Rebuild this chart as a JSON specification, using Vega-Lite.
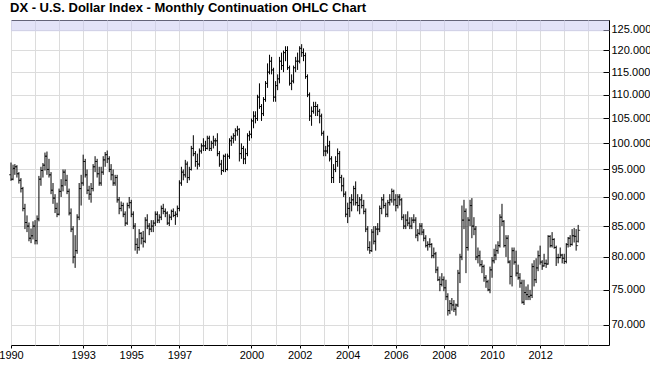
{
"$schema": "https://vega.github.io/schema/vega-lite/v6.json",
"width": 598, "height": 325,
"autosize": {"type": "none"},
"padding": {"left": 11, "top": 20, "right": 41, "bottom": 23},
"background": "white",
"config": {"view": {"stroke": "black", "strokeWidth": 1}},
"title": {"text": "DX - U.S. Dollar Index - Monthly Continuation OHLC Chart", "anchor": "start", "frame": "group", "offset": 5, "fontSize": 13, "fontWeight": "bold", "font": "Liberation Sans", "color": "black", "dx": -1},
"data": {"values": [
{"d":"1990-01-01","o":94.0,"h":96.3,"l":92.9,"c":93.2},{"d":"1990-02-01","o":93.2,"h":95.9,"l":93.0,"c":95.2},{"d":"1990-03-01","o":95.2,"h":96.0,"l":94.0,"c":95.5},{"d":"1990-04-01","o":95.5,"h":95.8,"l":93.5,"c":94.2},{"d":"1990-05-01","o":94.2,"h":94.5,"l":92.4,"c":93.0},{"d":"1990-06-01","o":93.0,"h":93.4,"l":90.8,"c":91.5},{"d":"1990-07-01","o":91.5,"h":91.8,"l":87.5,"c":88.0},{"d":"1990-08-01","o":88.0,"h":88.8,"l":84.5,"c":85.6},{"d":"1990-09-01","o":85.6,"h":86.8,"l":84.0,"c":85.0},{"d":"1990-10-01","o":85.0,"h":85.6,"l":82.5,"c":83.0},{"d":"1990-11-01","o":83.0,"h":84.6,"l":82.2,"c":83.4},{"d":"1990-12-01","o":83.4,"h":85.8,"l":82.8,"c":85.0},
{"d":"1991-01-01","o":85.0,"h":86.0,"l":82.0,"c":82.6},{"d":"1991-02-01","o":82.6,"h":86.8,"l":82.0,"c":86.2},{"d":"1991-03-01","o":86.2,"h":93.8,"l":85.8,"c":93.2},{"d":"1991-04-01","o":93.2,"h":95.5,"l":92.0,"c":94.8},{"d":"1991-05-01","o":94.8,"h":96.2,"l":93.5,"c":95.8},{"d":"1991-06-01","o":95.8,"h":98.2,"l":94.8,"c":97.5},{"d":"1991-07-01","o":97.5,"h":98.4,"l":94.0,"c":95.0},{"d":"1991-08-01","o":95.0,"h":97.0,"l":93.5,"c":94.0},{"d":"1991-09-01","o":94.0,"h":94.5,"l":90.5,"c":91.2},{"d":"1991-10-01","o":91.2,"h":92.5,"l":88.8,"c":89.8},{"d":"1991-11-01","o":89.8,"h":90.5,"l":87.2,"c":88.0},{"d":"1991-12-01","o":88.0,"h":89.0,"l":86.5,"c":87.0},
{"d":"1992-01-01","o":87.0,"h":91.5,"l":86.8,"c":91.0},{"d":"1992-02-01","o":91.0,"h":93.2,"l":90.0,"c":92.0},{"d":"1992-03-01","o":92.0,"h":95.0,"l":91.0,"c":94.5},{"d":"1992-04-01","o":94.5,"h":95.0,"l":92.0,"c":93.0},{"d":"1992-05-01","o":93.0,"h":94.0,"l":90.5,"c":91.0},{"d":"1992-06-01","o":91.0,"h":91.5,"l":86.8,"c":87.2},{"d":"1992-07-01","o":87.2,"h":88.0,"l":84.0,"c":84.5},{"d":"1992-08-01","o":84.5,"h":85.0,"l":79.0,"c":80.0},{"d":"1992-09-01","o":80.0,"h":83.5,"l":78.3,"c":81.0},{"d":"1992-10-01","o":81.0,"h":87.0,"l":80.5,"c":86.5},{"d":"1992-11-01","o":86.5,"h":92.5,"l":86.0,"c":91.5},{"d":"1992-12-01","o":91.5,"h":94.0,"l":88.5,"c":92.5},
{"d":"1993-01-01","o":92.5,"h":97.8,"l":92.0,"c":96.5},{"d":"1993-02-01","o":96.5,"h":97.0,"l":93.5,"c":94.0},{"d":"1993-03-01","o":94.0,"h":95.0,"l":90.5,"c":91.2},{"d":"1993-04-01","o":91.2,"h":92.0,"l":89.5,"c":90.5},{"d":"1993-05-01","o":90.5,"h":92.5,"l":89.0,"c":91.5},{"d":"1993-06-01","o":91.5,"h":96.0,"l":91.0,"c":95.5},{"d":"1993-07-01","o":95.5,"h":97.5,"l":94.5,"c":96.5},{"d":"1993-08-01","o":96.5,"h":97.0,"l":93.5,"c":94.2},{"d":"1993-09-01","o":94.2,"h":95.5,"l":92.0,"c":92.5},{"d":"1993-10-01","o":92.5,"h":95.5,"l":92.0,"c":94.5},{"d":"1993-11-01","o":94.5,"h":97.5,"l":94.0,"c":96.8},{"d":"1993-12-01","o":96.8,"h":98.3,"l":95.5,"c":97.8},
{"d":"1994-01-01","o":97.8,"h":98.6,"l":96.2,"c":97.0},{"d":"1994-02-01","o":97.0,"h":97.5,"l":94.5,"c":95.0},{"d":"1994-03-01","o":95.0,"h":96.0,"l":93.0,"c":94.0},{"d":"1994-04-01","o":94.0,"h":95.0,"l":92.0,"c":92.5},{"d":"1994-05-01","o":92.5,"h":94.0,"l":92.0,"c":93.5},{"d":"1994-06-01","o":93.5,"h":94.0,"l":89.0,"c":89.5},{"d":"1994-07-01","o":89.5,"h":90.0,"l":87.0,"c":88.0},{"d":"1994-08-01","o":88.0,"h":89.2,"l":87.5,"c":88.5},{"d":"1994-09-01","o":88.5,"h":89.0,"l":86.5,"c":87.0},{"d":"1994-10-01","o":87.0,"h":87.5,"l":85.0,"c":85.5},{"d":"1994-11-01","o":85.5,"h":89.0,"l":85.2,"c":88.5},{"d":"1994-12-01","o":88.5,"h":90.0,"l":88.0,"c":89.0},
{"d":"1995-01-01","o":89.0,"h":89.5,"l":86.5,"c":87.0},{"d":"1995-02-01","o":87.0,"h":87.5,"l":84.5,"c":85.0},{"d":"1995-03-01","o":85.0,"h":85.5,"l":81.0,"c":82.0},{"d":"1995-04-01","o":82.0,"h":83.0,"l":80.5,"c":81.5},{"d":"1995-05-01","o":81.5,"h":84.5,"l":81.0,"c":83.8},{"d":"1995-06-01","o":83.8,"h":84.0,"l":82.0,"c":83.0},{"d":"1995-07-01","o":83.0,"h":84.2,"l":81.5,"c":82.5},{"d":"1995-08-01","o":82.5,"h":86.5,"l":82.2,"c":86.0},{"d":"1995-09-01","o":86.0,"h":87.0,"l":84.5,"c":85.0},{"d":"1995-10-01","o":85.0,"h":85.5,"l":83.5,"c":84.5},{"d":"1995-11-01","o":84.5,"h":86.0,"l":84.0,"c":85.0},{"d":"1995-12-01","o":85.0,"h":86.0,"l":84.0,"c":85.5},
{"d":"1996-01-01","o":85.5,"h":87.5,"l":85.0,"c":87.0},{"d":"1996-02-01","o":87.0,"h":87.5,"l":85.5,"c":86.0},{"d":"1996-03-01","o":86.0,"h":87.0,"l":85.5,"c":86.5},{"d":"1996-04-01","o":86.5,"h":88.5,"l":86.0,"c":88.0},{"d":"1996-05-01","o":88.0,"h":88.8,"l":87.0,"c":87.5},{"d":"1996-06-01","o":87.5,"h":88.0,"l":86.5,"c":87.2},{"d":"1996-07-01","o":87.2,"h":87.5,"l":85.2,"c":85.5},{"d":"1996-08-01","o":85.5,"h":87.0,"l":85.0,"c":86.5},{"d":"1996-09-01","o":86.5,"h":87.8,"l":86.0,"c":87.5},{"d":"1996-10-01","o":87.5,"h":88.0,"l":86.5,"c":86.8},{"d":"1996-11-01","o":86.8,"h":87.5,"l":85.2,"c":87.0},{"d":"1996-12-01","o":87.0,"h":88.5,"l":86.5,"c":88.0},
{"d":"1997-01-01","o":88.0,"h":93.0,"l":87.5,"c":92.5},{"d":"1997-02-01","o":92.5,"h":95.5,"l":92.0,"c":94.5},{"d":"1997-03-01","o":94.5,"h":95.0,"l":93.0,"c":94.0},{"d":"1997-04-01","o":94.0,"h":96.8,"l":93.5,"c":96.0},{"d":"1997-05-01","o":96.0,"h":96.5,"l":92.5,"c":93.5},{"d":"1997-06-01","o":93.5,"h":95.5,"l":93.0,"c":95.0},{"d":"1997-07-01","o":95.0,"h":99.5,"l":94.8,"c":99.0},{"d":"1997-08-01","o":99.0,"h":101.6,"l":97.5,"c":98.0},{"d":"1997-09-01","o":98.0,"h":98.5,"l":95.5,"c":96.5},{"d":"1997-10-01","o":96.5,"h":98.0,"l":95.0,"c":96.0},{"d":"1997-11-01","o":96.0,"h":99.0,"l":95.5,"c":98.5},{"d":"1997-12-01","o":98.5,"h":100.0,"l":98.0,"c":99.5},
{"d":"1998-01-01","o":99.5,"h":101.0,"l":98.5,"c":99.5},{"d":"1998-02-01","o":99.5,"h":100.5,"l":98.5,"c":99.0},{"d":"1998-03-01","o":99.0,"h":101.5,"l":98.8,"c":101.0},{"d":"1998-04-01","o":101.0,"h":101.5,"l":98.5,"c":99.0},{"d":"1998-05-01","o":99.0,"h":100.5,"l":98.5,"c":100.0},{"d":"1998-06-01","o":100.0,"h":101.5,"l":99.0,"c":100.5},{"d":"1998-07-01","o":100.5,"h":101.0,"l":99.5,"c":100.5},{"d":"1998-08-01","o":100.5,"h":102.0,"l":97.5,"c":98.0},{"d":"1998-09-01","o":98.0,"h":98.5,"l":95.5,"c":96.0},{"d":"1998-10-01","o":96.0,"h":96.8,"l":94.0,"c":94.8},{"d":"1998-11-01","o":94.8,"h":97.8,"l":94.5,"c":97.5},{"d":"1998-12-01","o":97.5,"h":98.0,"l":94.5,"c":95.0},
{"d":"1999-01-01","o":95.0,"h":98.0,"l":94.8,"c":97.5},{"d":"1999-02-01","o":97.5,"h":101.0,"l":97.0,"c":100.5},{"d":"1999-03-01","o":100.5,"h":101.5,"l":99.5,"c":101.0},{"d":"1999-04-01","o":101.0,"h":102.0,"l":100.0,"c":101.5},{"d":"1999-05-01","o":101.5,"h":103.0,"l":100.5,"c":102.5},{"d":"1999-06-01","o":102.5,"h":103.5,"l":101.5,"c":102.8},{"d":"1999-07-01","o":102.8,"h":103.0,"l":96.5,"c":98.0},{"d":"1999-08-01","o":98.0,"h":100.0,"l":97.0,"c":99.0},{"d":"1999-09-01","o":99.0,"h":99.5,"l":96.0,"c":97.0},{"d":"1999-10-01","o":97.0,"h":99.0,"l":96.0,"c":98.0},{"d":"1999-11-01","o":98.0,"h":102.0,"l":97.5,"c":101.5},{"d":"1999-12-01","o":101.5,"h":102.5,"l":100.5,"c":101.8},
{"d":"2000-01-01","o":101.8,"h":105.0,"l":101.0,"c":104.5},{"d":"2000-02-01","o":104.5,"h":106.5,"l":103.0,"c":105.5},{"d":"2000-03-01","o":105.5,"h":106.5,"l":104.0,"c":105.0},{"d":"2000-04-01","o":105.0,"h":110.0,"l":104.5,"c":109.5},{"d":"2000-05-01","o":109.5,"h":112.5,"l":107.0,"c":107.5},{"d":"2000-06-01","o":107.5,"h":108.0,"l":104.5,"c":106.0},{"d":"2000-07-01","o":106.0,"h":109.5,"l":105.5,"c":109.0},{"d":"2000-08-01","o":109.0,"h":113.0,"l":108.5,"c":112.5},{"d":"2000-09-01","o":112.5,"h":117.0,"l":111.5,"c":115.0},{"d":"2000-10-01","o":115.0,"h":119.0,"l":114.5,"c":117.5},{"d":"2000-11-01","o":117.5,"h":118.5,"l":114.5,"c":115.5},{"d":"2000-12-01","o":115.5,"h":116.0,"l":108.5,"c":109.5},
{"d":"2001-01-01","o":109.5,"h":113.0,"l":108.5,"c":112.0},{"d":"2001-02-01","o":112.0,"h":114.5,"l":111.0,"c":113.5},{"d":"2001-03-01","o":113.5,"h":118.5,"l":112.5,"c":117.5},{"d":"2001-04-01","o":117.5,"h":119.5,"l":115.5,"c":116.5},{"d":"2001-05-01","o":116.5,"h":120.0,"l":115.0,"c":119.5},{"d":"2001-06-01","o":119.5,"h":121.0,"l":117.5,"c":120.0},{"d":"2001-07-01","o":120.0,"h":121.0,"l":115.5,"c":116.0},{"d":"2001-08-01","o":116.0,"h":116.5,"l":112.0,"c":112.5},{"d":"2001-09-01","o":112.5,"h":114.5,"l":111.0,"c":113.0},{"d":"2001-10-01","o":113.0,"h":116.5,"l":112.5,"c":116.0},{"d":"2001-11-01","o":116.0,"h":118.5,"l":115.0,"c":117.5},{"d":"2001-12-01","o":117.5,"h":119.5,"l":115.5,"c":117.5},
{"d":"2002-01-01","o":117.5,"h":121.0,"l":117.0,"c":120.5},{"d":"2002-02-01","o":120.5,"h":121.5,"l":118.5,"c":119.5},{"d":"2002-03-01","o":119.5,"h":120.5,"l":117.5,"c":118.8},{"d":"2002-04-01","o":118.8,"h":119.5,"l":113.5,"c":114.0},{"d":"2002-05-01","o":114.0,"h":114.5,"l":109.5,"c":110.0},{"d":"2002-06-01","o":110.0,"h":110.5,"l":104.5,"c":105.5},{"d":"2002-07-01","o":105.5,"h":107.5,"l":103.5,"c":106.5},{"d":"2002-08-01","o":106.5,"h":108.5,"l":106.0,"c":107.5},{"d":"2002-09-01","o":107.5,"h":108.5,"l":105.5,"c":107.5},{"d":"2002-10-01","o":107.5,"h":108.0,"l":105.5,"c":106.5},{"d":"2002-11-01","o":106.5,"h":107.0,"l":104.0,"c":105.5},{"d":"2002-12-01","o":105.5,"h":106.0,"l":101.5,"c":102.0},
{"d":"2003-01-01","o":102.0,"h":102.5,"l":97.5,"c":98.5},{"d":"2003-02-01","o":98.5,"h":99.5,"l":97.5,"c":98.5},{"d":"2003-03-01","o":98.5,"h":101.5,"l":98.0,"c":99.5},{"d":"2003-04-01","o":99.5,"h":100.5,"l":96.5,"c":97.0},{"d":"2003-05-01","o":97.0,"h":97.5,"l":92.5,"c":93.5},{"d":"2003-06-01","o":93.5,"h":96.0,"l":92.5,"c":95.0},{"d":"2003-07-01","o":95.0,"h":97.5,"l":94.5,"c":96.5},{"d":"2003-08-01","o":96.5,"h":99.0,"l":95.5,"c":98.0},{"d":"2003-09-01","o":98.0,"h":98.5,"l":92.5,"c":93.5},{"d":"2003-10-01","o":93.5,"h":94.0,"l":91.0,"c":92.0},{"d":"2003-11-01","o":92.0,"h":93.5,"l":90.0,"c":90.5},{"d":"2003-12-01","o":90.5,"h":91.0,"l":86.5,"c":87.0},
{"d":"2004-01-01","o":87.0,"h":89.0,"l":85.5,"c":88.0},{"d":"2004-02-01","o":88.0,"h":90.0,"l":86.5,"c":89.0},{"d":"2004-03-01","o":89.0,"h":90.5,"l":87.5,"c":89.5},{"d":"2004-04-01","o":89.5,"h":92.0,"l":88.5,"c":91.5},{"d":"2004-05-01","o":91.5,"h":92.8,"l":88.5,"c":89.0},{"d":"2004-06-01","o":89.0,"h":90.5,"l":87.5,"c":88.5},{"d":"2004-07-01","o":88.5,"h":90.0,"l":87.0,"c":89.5},{"d":"2004-08-01","o":89.5,"h":90.5,"l":88.0,"c":88.5},{"d":"2004-09-01","o":88.5,"h":89.5,"l":87.0,"c":87.5},{"d":"2004-10-01","o":87.5,"h":88.0,"l":84.0,"c":84.5},{"d":"2004-11-01","o":84.5,"h":85.0,"l":81.0,"c":81.5},{"d":"2004-12-01","o":81.5,"h":82.5,"l":80.5,"c":81.0},
{"d":"2005-01-01","o":81.0,"h":84.5,"l":80.8,"c":84.0},{"d":"2005-02-01","o":84.0,"h":85.0,"l":82.0,"c":82.5},{"d":"2005-03-01","o":82.5,"h":85.0,"l":81.0,"c":84.5},{"d":"2005-04-01","o":84.5,"h":85.5,"l":83.5,"c":84.5},{"d":"2005-05-01","o":84.5,"h":88.5,"l":84.0,"c":88.0},{"d":"2005-06-01","o":88.0,"h":90.0,"l":87.0,"c":89.5},{"d":"2005-07-01","o":89.5,"h":90.5,"l":88.0,"c":88.5},{"d":"2005-08-01","o":88.5,"h":89.0,"l":86.5,"c":87.0},{"d":"2005-09-01","o":87.0,"h":89.5,"l":86.5,"c":89.0},{"d":"2005-10-01","o":89.0,"h":90.5,"l":88.5,"c":89.5},{"d":"2005-11-01","o":89.5,"h":91.5,"l":89.0,"c":91.0},{"d":"2005-12-01","o":91.0,"h":91.3,"l":88.5,"c":89.5},
{"d":"2006-01-01","o":89.5,"h":90.5,"l":87.5,"c":88.5},{"d":"2006-02-01","o":88.5,"h":90.5,"l":88.0,"c":90.0},{"d":"2006-03-01","o":90.0,"h":90.5,"l":88.5,"c":89.5},{"d":"2006-04-01","o":89.5,"h":89.8,"l":86.0,"c":86.5},{"d":"2006-05-01","o":86.5,"h":87.0,"l":84.5,"c":85.0},{"d":"2006-06-01","o":85.0,"h":87.0,"l":84.5,"c":86.0},{"d":"2006-07-01","o":86.0,"h":87.5,"l":85.0,"c":85.5},{"d":"2006-08-01","o":85.5,"h":86.5,"l":84.5,"c":85.0},{"d":"2006-09-01","o":85.0,"h":86.5,"l":84.5,"c":86.0},{"d":"2006-10-01","o":86.0,"h":87.0,"l":85.5,"c":86.0},{"d":"2006-11-01","o":86.0,"h":86.5,"l":83.0,"c":83.5},{"d":"2006-12-01","o":83.5,"h":84.5,"l":82.5,"c":83.8},
{"d":"2007-01-01","o":83.8,"h":85.5,"l":83.5,"c":85.0},{"d":"2007-02-01","o":85.0,"h":85.5,"l":83.5,"c":84.0},{"d":"2007-03-01","o":84.0,"h":84.5,"l":82.5,"c":83.0},{"d":"2007-04-01","o":83.0,"h":83.5,"l":81.5,"c":81.8},{"d":"2007-05-01","o":81.8,"h":82.5,"l":81.0,"c":82.0},{"d":"2007-06-01","o":82.0,"h":83.0,"l":81.5,"c":82.0},{"d":"2007-07-01","o":82.0,"h":82.2,"l":79.8,"c":80.2},{"d":"2007-08-01","o":80.2,"h":81.5,"l":79.8,"c":80.5},{"d":"2007-09-01","o":80.5,"h":80.8,"l":77.5,"c":78.0},{"d":"2007-10-01","o":78.0,"h":78.5,"l":76.3,"c":76.5},{"d":"2007-11-01","o":76.5,"h":77.0,"l":74.8,"c":75.8},{"d":"2007-12-01","o":75.8,"h":77.5,"l":75.5,"c":76.5},
{"d":"2008-01-01","o":76.5,"h":77.0,"l":74.8,"c":75.3},{"d":"2008-02-01","o":75.3,"h":76.5,"l":73.5,"c":74.0},{"d":"2008-03-01","o":74.0,"h":74.5,"l":71.3,"c":72.0},{"d":"2008-04-01","o":72.0,"h":73.5,"l":71.5,"c":73.0},{"d":"2008-05-01","o":73.0,"h":73.8,"l":72.0,"c":72.8},{"d":"2008-06-01","o":72.8,"h":73.5,"l":71.8,"c":72.2},{"d":"2008-07-01","o":72.2,"h":73.0,"l":71.3,"c":72.8},{"d":"2008-08-01","o":72.8,"h":78.0,"l":72.5,"c":77.5},{"d":"2008-09-01","o":77.5,"h":80.5,"l":76.0,"c":80.0},{"d":"2008-10-01","o":80.0,"h":88.5,"l":79.5,"c":86.0},{"d":"2008-11-01","o":86.0,"h":89.5,"l":84.5,"c":87.5},{"d":"2008-12-01","o":87.5,"h":88.0,"l":77.5,"c":81.5},
{"d":"2009-01-01","o":81.5,"h":86.5,"l":81.0,"c":86.0},{"d":"2009-02-01","o":86.0,"h":89.5,"l":85.0,"c":88.5},{"d":"2009-03-01","o":88.5,"h":89.8,"l":83.0,"c":85.0},{"d":"2009-04-01","o":85.0,"h":86.5,"l":83.5,"c":84.5},{"d":"2009-05-01","o":84.5,"h":85.0,"l":79.5,"c":80.0},{"d":"2009-06-01","o":80.0,"h":81.5,"l":79.0,"c":80.2},{"d":"2009-07-01","o":80.2,"h":81.0,"l":78.5,"c":78.8},{"d":"2009-08-01","o":78.8,"h":79.5,"l":77.5,"c":78.5},{"d":"2009-09-01","o":78.5,"h":78.8,"l":76.2,"c":76.8},{"d":"2009-10-01","o":76.8,"h":77.2,"l":75.3,"c":76.2},{"d":"2009-11-01","o":76.2,"h":76.5,"l":74.8,"c":75.0},{"d":"2009-12-01","o":75.0,"h":78.5,"l":74.5,"c":78.0},
{"d":"2010-01-01","o":78.0,"h":80.0,"l":76.8,"c":79.4},{"d":"2010-02-01","o":79.4,"h":81.3,"l":79.0,"c":80.3},{"d":"2010-03-01","o":80.3,"h":82.0,"l":79.5,"c":81.0},{"d":"2010-04-01","o":81.0,"h":82.5,"l":80.5,"c":81.8},{"d":"2010-05-01","o":81.8,"h":87.0,"l":81.5,"c":86.5},{"d":"2010-06-01","o":86.5,"h":88.8,"l":85.0,"c":85.8},{"d":"2010-07-01","o":85.8,"h":86.0,"l":81.5,"c":81.8},{"d":"2010-08-01","o":81.8,"h":83.5,"l":80.0,"c":83.0},{"d":"2010-09-01","o":83.0,"h":83.5,"l":79.0,"c":79.2},{"d":"2010-10-01","o":79.2,"h":79.5,"l":75.8,"c":77.0},{"d":"2010-11-01","o":77.0,"h":81.5,"l":75.5,"c":81.0},{"d":"2010-12-01","o":81.0,"h":81.5,"l":78.8,"c":79.2},
{"d":"2011-01-01","o":79.2,"h":81.0,"l":77.0,"c":77.5},{"d":"2011-02-01","o":77.5,"h":78.8,"l":76.5,"c":76.8},{"d":"2011-03-01","o":76.8,"h":77.5,"l":75.3,"c":76.0},{"d":"2011-04-01","o":76.0,"h":76.5,"l":73.0,"c":73.2},{"d":"2011-05-01","o":73.2,"h":76.5,"l":72.8,"c":74.6},{"d":"2011-06-01","o":74.6,"h":75.5,"l":73.5,"c":74.3},{"d":"2011-07-01","o":74.3,"h":75.8,"l":73.5,"c":74.0},{"d":"2011-08-01","o":74.0,"h":75.0,"l":73.5,"c":74.2},{"d":"2011-09-01","o":74.2,"h":79.0,"l":73.8,"c":78.5},{"d":"2011-10-01","o":78.5,"h":79.5,"l":75.5,"c":76.5},{"d":"2011-11-01","o":76.5,"h":79.8,"l":76.0,"c":78.3},{"d":"2011-12-01","o":78.3,"h":81.0,"l":77.8,"c":80.2},
{"d":"2012-01-01","o":80.2,"h":81.8,"l":78.8,"c":79.2},{"d":"2012-02-01","o":79.2,"h":79.5,"l":78.0,"c":78.6},{"d":"2012-03-01","o":78.6,"h":80.5,"l":78.5,"c":79.0},{"d":"2012-04-01","o":79.0,"h":79.6,"l":78.3,"c":78.9},{"d":"2012-05-01","o":78.9,"h":83.5,"l":78.8,"c":83.3},{"d":"2012-06-01","o":83.3,"h":83.5,"l":81.5,"c":81.8},{"d":"2012-07-01","o":81.8,"h":84.0,"l":81.5,"c":82.8},{"d":"2012-08-01","o":82.8,"h":83.0,"l":81.3,"c":81.5},{"d":"2012-09-01","o":81.5,"h":81.8,"l":78.6,"c":79.9},{"d":"2012-10-01","o":79.9,"h":80.5,"l":79.0,"c":79.9},{"d":"2012-11-01","o":79.9,"h":81.5,"l":79.8,"c":80.3},{"d":"2012-12-01","o":80.3,"h":80.5,"l":79.0,"c":79.8},
{"d":"2013-01-01","o":79.8,"h":80.5,"l":78.9,"c":79.3},{"d":"2013-02-01","o":79.3,"h":82.2,"l":79.0,"c":82.0},{"d":"2013-03-01","o":82.0,"h":83.2,"l":81.5,"c":83.0},{"d":"2013-04-01","o":83.0,"h":83.5,"l":81.6,"c":82.0},{"d":"2013-05-01","o":82.0,"h":84.5,"l":81.8,"c":83.4},{"d":"2013-06-01","o":83.4,"h":84.7,"l":82.3,"c":83.3},{"d":"2013-07-01","o":83.3,"h":84.5,"l":81.0,"c":81.8},{"d":"2013-08-01","o":82.5,"h":85.2,"l":82.3,"c":84.3}
]},
"resolve": {"axis": {"x": "independent"}},
"layer": [
{"mark": {"type": "rect", "fill": "#c8c8f2", "opacity": 0.5},
 "data": {"values": [{"from": 124.6, "to": 127.4}]},
 "encoding": {"y": {"field": "from", "type": "quantitative", "scale": {"type": "log", "domain": [67.3, 127.4], "nice": false, "zero": false}}, "y2": {"field": "to"}}},
{"mark": {"type": "rule", "color": "black", "strokeWidth": 1},
 "encoding": {
  "x": {"field": "d", "type": "temporal", "scale": {"type": "utc", "domain": ["1990-01-01", "2014-11-12"]},
   "axis": {"title": null, "domain": false, "grid": false,
    "values": [{"year":1990,"utc":true},{"year":1993,"utc":true},{"year":1995,"utc":true},{"year":1997,"utc":true},{"year":2000,"utc":true},{"year":2002,"utc":true},{"year":2004,"utc":true},{"year":2006,"utc":true},{"year":2008,"utc":true},{"year":2010,"utc":true},{"year":2012,"utc":true}],
    "format": "%Y", "tickColor": "black", "tickSize": 3, "labelPadding": 1, "labelFont": "Liberation Sans", "labelFontSize": 11, "labelColor": "black", "labelOverlap": false, "labelFlush": false, "labelBound": false}},
  "y": {"field": "l", "type": "quantitative", "scale": {"type": "log", "domain": [67.3, 127.4], "nice": false, "zero": false},
   "axis": {"orient": "right", "title": null, "domain": false, "grid": true, "gridColor": "#dcdcdc", "gridWidth": 1,
    "values": [70,75,80,85,90,95,100,105,110,115,120,125], "format": ".3f",
    "tickSize": -6, "tickColor": "black", "labelPadding": 8, "labelFont": "Liberation Sans", "labelFontSize": 11, "labelColor": "black", "labelBound": false, "labelOverlap": false}},
  "y2": {"field": "h"}}},
{"mark": {"type": "tick", "orient": "horizontal", "color": "black", "size": 2, "thickness": 1, "xOffset": -1},
 "encoding": {"x": {"field": "d", "type": "temporal",
   "axis": {"title": null, "domain": false, "labels": false, "ticks": false, "grid": true, "gridColor": "#dcdcdc", "gridWidth": 1,
    "values": [{"year":1990,"utc":true},{"year":1991,"utc":true},{"year":1992,"utc":true},{"year":1993,"utc":true},{"year":1994,"utc":true},{"year":1995,"utc":true},{"year":1996,"utc":true},{"year":1997,"utc":true},{"year":1998,"utc":true},{"year":1999,"utc":true},{"year":2000,"utc":true},{"year":2001,"utc":true},{"year":2002,"utc":true},{"year":2003,"utc":true},{"year":2004,"utc":true},{"year":2005,"utc":true},{"year":2006,"utc":true},{"year":2007,"utc":true},{"year":2008,"utc":true},{"year":2009,"utc":true},{"year":2010,"utc":true},{"year":2011,"utc":true},{"year":2012,"utc":true},{"year":2013,"utc":true},{"year":2014,"utc":true}]}},
  "y": {"field": "o", "type": "quantitative"}}},
{"mark": {"type": "tick", "orient": "horizontal", "color": "black", "size": 2, "thickness": 1, "xOffset": 1},
 "encoding": {"x": {"field": "d", "type": "temporal", "axis": null}, "y": {"field": "c", "type": "quantitative"}}}
]
}
